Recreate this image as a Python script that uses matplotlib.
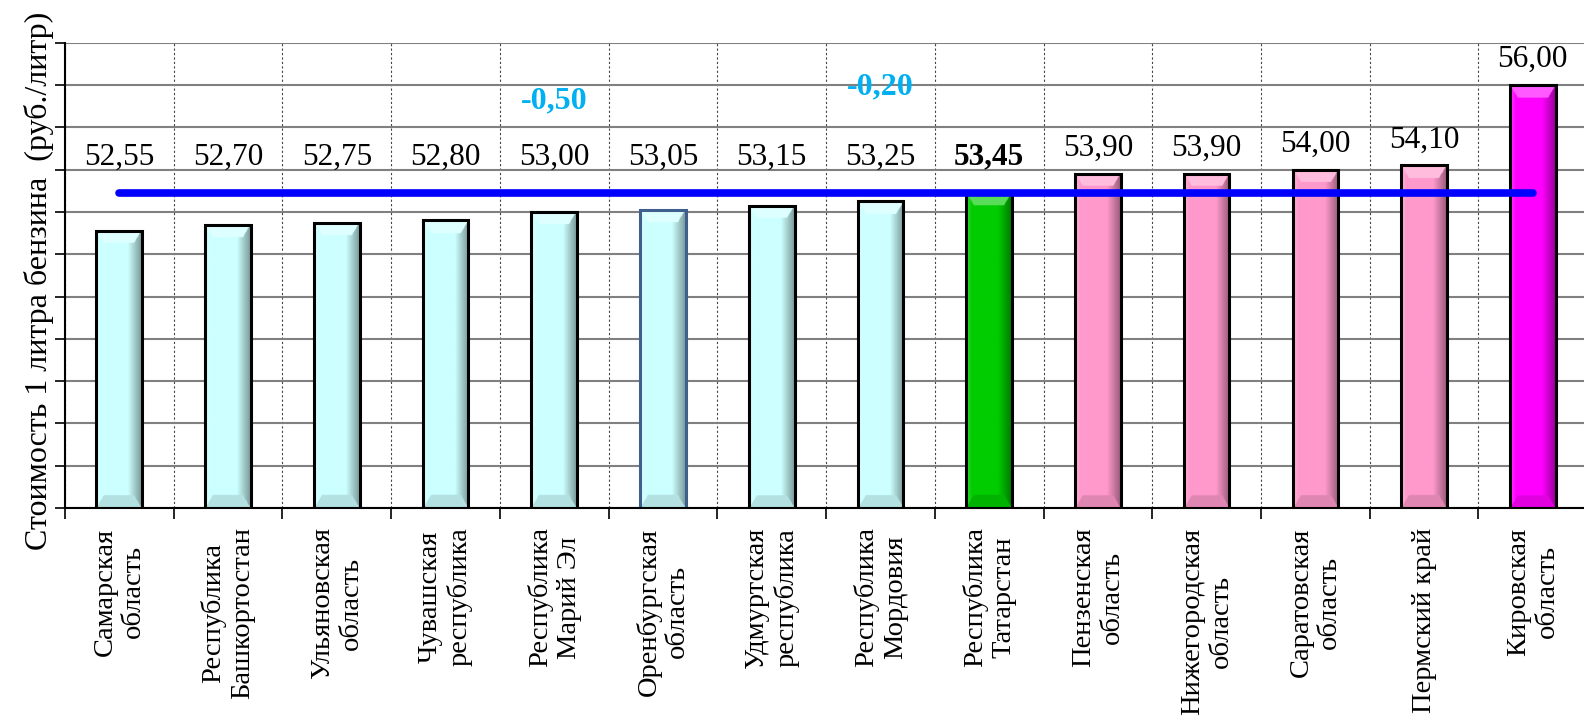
import numpy as np
import matplotlib
matplotlib.use("Agg")
import matplotlib.pyplot as plt
from matplotlib.colors import to_rgb

categories = ["Самарская\nобласть", "Республика\nБашкортостан", "Ульяновская\nобласть",
              "Чувашская\nреспублика", "Республика\nМарий Эл", "Оренбургская\nобласть",
              "Удмуртская\nреспублика", "Республика\nМордовия", "Республика\nТатарстан",
              "Пензенская\nобласть", "Нижегородская\nобласть", "Саратовская\nобласть",
              "Пермский край", "Кировская\nобласть"]
values = [52.55, 52.70, 52.75, 52.80, 53.00, 53.05, 53.15, 53.25, 53.45,
          53.90, 53.90, 54.00, 54.10, 56.00]
value_labels = ["52,55", "52,70", "52,75", "52,80", "53,00", "53,05", "53,15", "53,25",
                "53,45", "53,90", "53,90", "54,00", "54,10", "56,00"]
bar_colors = ["#CCFFFF"] * 8 + ["#00CC00"] + ["#FF99CC"] * 4 + ["#FF00FF"]
reference_level = 53.45
diff_labels = {"Республика\nМарий Эл": "-0,50", "Республика\nМордовия": "-0,20"}
diff_heights = {"Республика\nМарий Эл": 55.62, "Республика\nМордовия": 55.95}
ymin, ymax = 46, 57
ylabel = "Стоимость 1 литра бензина  (руб./литр)"

serif = ["Liberation Serif", "DejaVu Serif"]
plt.rcParams["font.family"] = serif

fig = plt.figure(figsize=(15.84, 7.19), dpi=100)
ax = fig.add_axes([0.041, 0.2935, 0.961, 0.647])

x = np.arange(len(categories))
w = 0.42
ax.set_xlim(-0.5, len(categories) - 0.5)
ax.set_ylim(ymin, ymax)


def shaded(color, v):
    base = np.array(to_rgb(color))
    nx, ny = 60, 500
    fx = np.linspace(0, 1, nx)
    ys = np.linspace(ymin, v, ny)
    img = np.tile(base, (ny, nx, 1)).astype(float)
    white = np.ones(3)
    black = np.zeros(3)
    for j, f in enumerate(fx):
        if f < 0.12:
            t = 0.25 * (1 - f / 0.12)
            img[:, j] = base * (1 - t) + white * t
        elif f > 0.70:
            t = 0.40 * ((f - 0.70) / 0.30)
            img[:, j] = base * (1 - t) + black * t
    bev = 0.30
    for i, yy in enumerate(ys):
        d = (v - yy) / bev
        if d < 1:
            for j, f in enumerate(fx):
                if d * 0.17 <= f <= 1 - d * 0.17:
                    img[i, j] = base * 0.65 + white * 0.35
        db = (yy - ymin) / bev
        if db < 1:
            for j, f in enumerate(fx):
                if db * 0.17 <= f <= 1 - db * 0.17:
                    img[i, j] = base * 0.88 + black * 0.12
    return img


bars = ax.bar(x, values, width=w, color="none", edgecolor="black", linewidth=2.2, zorder=4)
for b, v, c in zip(bars, values, bar_colors):
    ax.imshow(shaded(c, v), extent=[b.get_x(), b.get_x() + b.get_width(), ymin, v],
              origin="lower", aspect="auto", zorder=3, interpolation="bilinear")
bars[5].set_edgecolor("#3F5F8F")

ax.plot(x, [reference_level] * len(x), color="#0000FF", linewidth=5.5,
        solid_capstyle="round", zorder=5)

for xi, v, lab in zip(x, values, value_labels):
    ly = max(v + 0.6, 54.3)
    ax.text(xi, ly, lab, ha="center", va="center", fontsize=22.5, family=serif,
            fontweight="bold" if v == reference_level else "normal", zorder=6)

for cat, lab in diff_labels.items():
    i = categories.index(cat)
    ax.text(x[i], diff_heights[cat], lab, ha="center", va="center", fontsize=23,
            family=serif, fontweight="bold", color="#00B0F0", zorder=6)

ax.set_yticks(np.arange(ymin, ymax + 1, 1))
ax.set_yticklabels([])
ax.tick_params(axis="y", direction="out", length=7, width=1.2)
ax.yaxis.grid(True, color="#808080", linewidth=1.5)

ax.set_xticks(x)
ax.set_xticklabels(categories, rotation=90, fontsize=20.5, family=serif,
                   multialignment="center")
ax.set_xticks(np.arange(-0.5, len(categories), 1), minor=True)
ax.tick_params(axis="x", which="major", length=0, pad=14)
ax.tick_params(axis="x", which="minor", direction="out", length=8, width=1.2)
ax.xaxis.grid(True, which="minor", color="#444444", linewidth=0.8, linestyle=(0, (2, 2)))
ax.set_axisbelow(True)

for s in ["top", "right"]:
    ax.spines[s].set_visible(False)
for s in ["left", "bottom"]:
    ax.spines[s].set_linewidth(1.5)
    ax.spines[s].set_zorder(7)

ax.set_ylabel(ylabel, fontsize=23, family=serif)
ax.yaxis.set_label_coords(-0.007, 0.488)

fig.savefig("out.png", dpi=100)
